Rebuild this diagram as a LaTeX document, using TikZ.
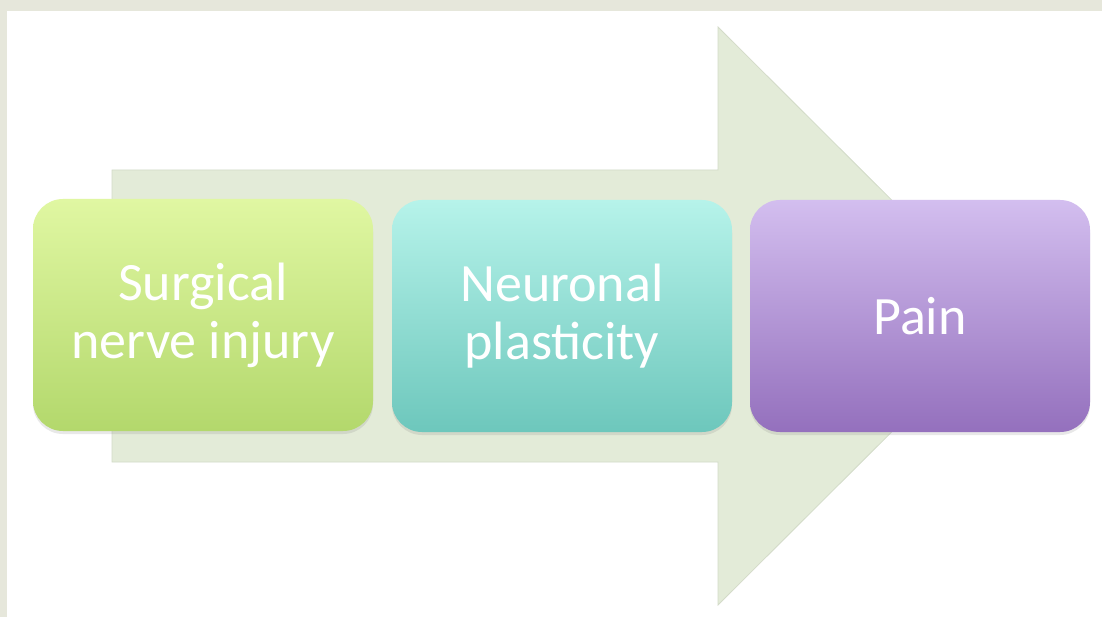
\documentclass[tikz,border=0pt]{standalone}
\usepackage{fontspec}
\setmainfont{Carlito}
\usetikzlibrary{shadows}
\definecolor{bgbeige}{HTML}{E6E7DB}
\definecolor{arrowfill}{HTML}{E3EBD8}
\definecolor{arrowedge}{HTML}{D3DBC8}
\definecolor{gtop}{HTML}{E0F7A2}
\definecolor{gbot}{HTML}{B3D86C}
\definecolor{ttop}{HTML}{B6F3EA}
\definecolor{tbot}{HTML}{6DC7BC}
\definecolor{ptop}{HTML}{D3BEEF}
\definecolor{pbot}{HTML}{9470BD}
\tikzset{
  stagebox/.style={rounded corners=30pt, minimum width=340pt, minimum height=232pt,
    inner sep=0pt, align=center, text=white,
    font=\fontsize{54}{58}\selectfont,
    drop shadow={opacity=0.18, shadow xshift=0pt, shadow yshift=-3pt}},
  bigarrow/.style={fill=arrowfill, draw=arrowedge, line width=0.8pt}
}
\begin{document}
\begin{tikzpicture}[x=1pt, y=-1pt]
\useasboundingbox (0,0) rectangle (1102,617);
\fill[bgbeige] (0,0) rectangle (1102,617);
\fill[white] (7,11) rectangle (1102,617);
\draw[bigarrow] (112,170) -- (718,170) -- (718,27) -- (1008,316) -- (718,605) -- (718,462) -- (112,462) -- cycle;
\node[stagebox, top color=gtop, bottom color=gbot] (s1) at (203,315) {Surgical\\nerve injury};
\node[stagebox, top color=ttop, bottom color=tbot] (s2) at (562,316) {Neuronal\\plasticity};
\node[stagebox, top color=ptop, bottom color=pbot] (s3) at (920,316) {Pain};
\end{tikzpicture}
\end{document}
